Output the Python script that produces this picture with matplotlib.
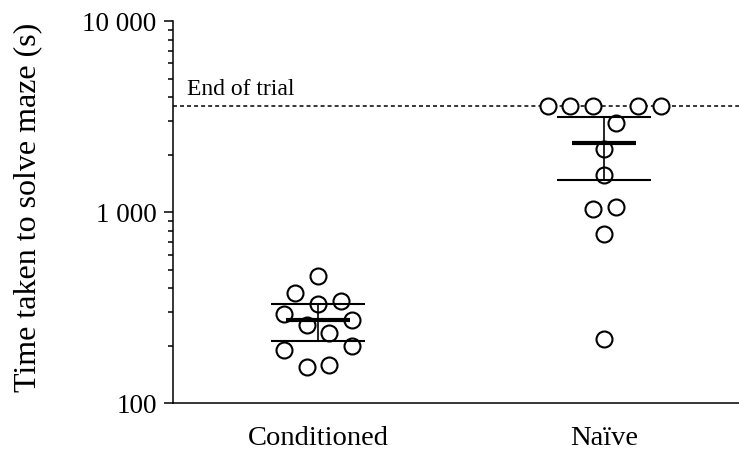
import numpy as np
import matplotlib.pyplot as plt
from matplotlib.ticker import FixedLocator, LogLocator, FuncFormatter, NullFormatter

plt.rcParams['font.family'] = ['Liberation Serif', 'DejaVu Serif']

groups = ['Conditioned', 'Naïve']
# time to solve maze (s), listed in the order the points sit across each row
conditioned = [191, 155, 158, 199, 292, 256, 233, 272, 378, 332, 343, 462]
naive = [218, 767, 1033, 1058, 1563, 2130, 3600, 3600, 3600, 2936, 3600, 3600]
end_of_trial = 3600
t_crit = 2.201  # two sided 95 %, df = 11


def swarm(vals, slot=0.079, gap=0.12):
    # prism-like rows: values close on the log scale share a row, spread evenly
    logs = np.log10(np.asarray(vals, float))
    order = np.argsort(logs, kind='stable')
    rows = []
    for i in order:
        if rows and logs[i] - logs[rows[-1][0]] <= gap:
            rows[-1].append(i)
        else:
            rows.append([i])
    offs = np.zeros(len(logs))
    for r in rows:
        r = sorted(r)
        for k, i in enumerate(r):
            offs[i] = (k - (len(r) - 1) / 2.) * slot
    return offs


fig = plt.figure(figsize=(7.39, 4.5), dpi=100)
ax = fig.add_axes([0.2345, 0.1037, 0.7655, 0.8496])

for x, vals in enumerate([conditioned, naive]):
    vals = np.asarray(vals, float)
    m = vals.mean()
    ci = t_crit * vals.std(ddof=1) / np.sqrt(len(vals))
    ax.plot(x + swarm(vals), vals, 'o', ms=11.5, mfc='white', mec='black',
            mew=1.5, zorder=3)
    ax.hlines(m, x - 0.112, x + 0.112, color='black', lw=3, zorder=4)
    ax.hlines([m - ci, m + ci], x - 0.164, x + 0.164, color='black', lw=1.5, zorder=4)
    ax.vlines(x, m - ci, m + ci, color='black', lw=1.2, zorder=4)

ax.axhline(end_of_trial, color='black', lw=1.1, ls=(0, (2.6, 2.0)), zorder=1)
ax.annotate('End of trial', xy=(0.024, end_of_trial),
            xycoords=('axes fraction', 'data'), xytext=(0, 7.6),
            textcoords='offset points', ha='left', va='baseline', fontsize=17)

ax.set_yscale('log')
ax.set_ylim(100, 10000)
ax.set_xlim(-0.505, 1.47)
ax.yaxis.set_major_locator(FixedLocator([100, 1000, 10000]))
ax.yaxis.set_major_formatter(FuncFormatter(lambda v, p: '{:,}'.format(int(v)).replace(',', ' ')))
ax.yaxis.set_minor_locator(LogLocator(base=10, subs=np.arange(2, 10)))
ax.yaxis.set_minor_formatter(NullFormatter())

ax.set_xticks([0, 1], groups)
ax.tick_params(axis='x', length=0, pad=16.5, labelsize=20.5)
ax.tick_params(axis='y', which='major', length=6.5, width=1.1, pad=5.5, labelsize=19.5)
ax.tick_params(axis='y', which='minor', length=3.3, width=1.1)

ax.set_ylabel('Time taken to solve maze (s)', fontsize=23)
ax.yaxis.set_label_coords(-0.232, 0.513)

for s in ['top', 'right']:
    ax.spines[s].set_visible(False)
for s in ['left', 'bottom']:
    ax.spines[s].set_linewidth(1.1)

plt.savefig('out.png', dpi=100)
